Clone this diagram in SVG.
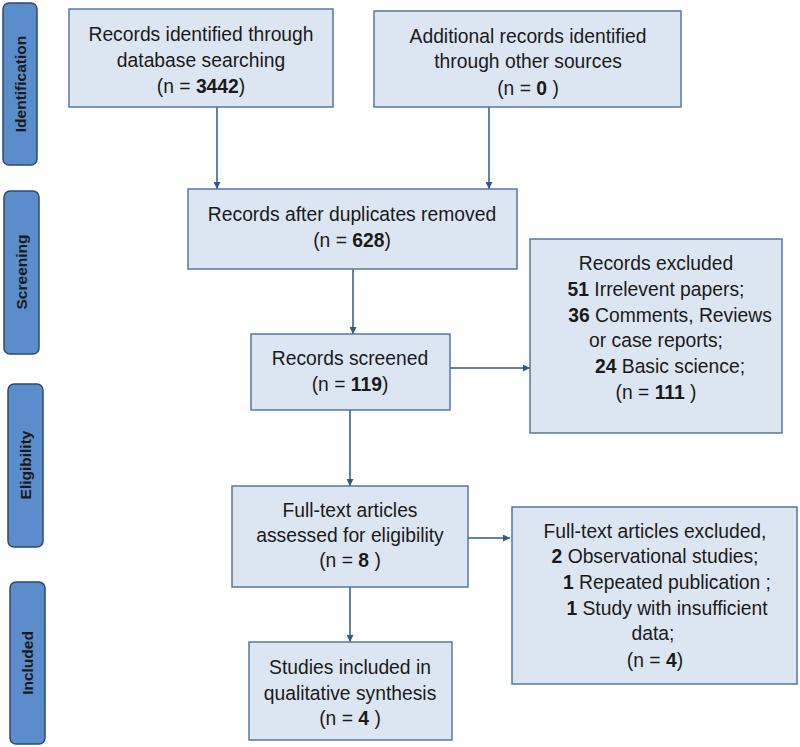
<svg xmlns="http://www.w3.org/2000/svg" width="800" height="747" viewBox="0 0 800 747">
<style>
.box{fill:#dce6f2;stroke:#5577a6;stroke-width:1.5}
.side{fill:#5b8ccc;stroke:#2c4a70;stroke-width:1.5}
.t{font-family:"Liberation Sans",Arial,sans-serif;font-size:19.3px;fill:#1a1a1a;text-anchor:middle}
.s{font-family:"Liberation Sans",Arial,sans-serif;font-size:15.5px;font-weight:bold;fill:#1a1a1a;text-anchor:middle}
.b{font-weight:bold}
.c{stroke:#2f5a86;stroke-width:1.5;fill:none;marker-end:url(#ah)}
</style>
<defs>
<marker id="ah" viewBox="0 0 10 10" refX="10" refY="5" markerWidth="7" markerHeight="7" markerUnits="userSpaceOnUse" orient="auto"><path d="M0,0 L10,5 L0,10 z" fill="#2f5a86"/></marker>
</defs>
<rect width="800" height="747" fill="#ffffff"/>
<g id="side-identification"><rect class="side" x="3" y="3" width="34" height="162" rx="6"/><text class="s" transform="translate(25.5,84) rotate(-90)">Identification</text></g>
<g id="side-screening"><rect class="side" x="4" y="191" width="35" height="163" rx="6"/><text class="s" transform="translate(27,272) rotate(-90)">Screening</text></g>
<g id="side-eligibility"><rect class="side" x="8" y="384" width="35" height="163" rx="6"/><text class="s" transform="translate(31,465) rotate(-90)">Eligibility</text></g>
<g id="side-included"><rect class="side" x="10" y="582" width="35" height="162" rx="6"/><text class="s" transform="translate(33,663) rotate(-90)">Included</text></g>

<g id="connectors">
<line class="c" x1="217" y1="107" x2="217" y2="189"/>
<line class="c" x1="489" y1="107" x2="489" y2="189"/>
<line class="c" x1="353" y1="269" x2="353" y2="334"/>
<line class="c" x1="450" y1="368" x2="530" y2="368"/>
<line class="c" x1="350" y1="410" x2="350" y2="486"/>
<line class="c" x1="468" y1="538" x2="510" y2="538"/>
<line class="c" x1="350" y1="587" x2="350" y2="642"/>
</g>

<g id="n1"><rect class="box" x="69" y="9" width="264" height="98"/>
<text class="t" x="201" y="41">Records identified through</text>
<text class="t" x="201" y="67">database searching</text>
<text class="t" x="201" y="93">(n =  <tspan class="b">3442</tspan>)</text></g>

<g id="n2"><rect class="box" x="374" y="11" width="307" height="96"/>
<text class="t" x="528" y="43">Additional records identified</text>
<text class="t" x="528" y="68">through other sources</text>
<text class="t" x="528" y="95">(n =  <tspan class="b">0</tspan> )</text></g>

<g id="n3"><rect class="box" x="188" y="189" width="329" height="80"/>
<text class="t" x="352" y="221">Records after duplicates removed</text>
<text class="t" x="352" y="247">(n =  <tspan class="b">628</tspan>)</text></g>

<g id="n4"><rect class="box" x="251" y="334" width="199" height="76"/>
<text class="t" x="350" y="365">Records screened</text>
<text class="t" x="350" y="391">(n =  <tspan class="b">119</tspan>)</text></g>

<g id="n5"><rect class="box" x="530" y="239" width="252" height="194"/>
<text class="t" x="656" y="270">Records excluded</text>
<text class="t" x="656" y="296"><tspan class="b">51</tspan> Irrelevent papers;</text>
<text class="t" x="670" y="322"><tspan class="b">36</tspan> Comments, Reviews</text>
<text class="t" x="656" y="347">or case reports;</text>
<text class="t" x="670" y="373"><tspan class="b">24</tspan> Basic science;</text>
<text class="t" x="656" y="399">(n =  <tspan class="b">111</tspan> )</text></g>

<g id="n6"><rect class="box" x="232" y="486" width="236" height="101"/>
<text class="t" x="350" y="517">Full-text articles</text>
<text class="t" x="350" y="542">assessed for eligibility</text>
<text class="t" x="350" y="567">(n =  <tspan class="b">8</tspan> )</text></g>

<g id="n7"><rect class="box" x="512" y="507" width="285" height="177"/>
<text class="t" x="655" y="538">Full-text articles excluded,</text>
<text class="t" x="655" y="563"><tspan class="b">2</tspan> Observational studies;</text>
<text class="t" x="667" y="589"><tspan class="b">1</tspan> Repeated publication ;</text>
<text class="t" x="667" y="615"><tspan class="b">1</tspan> Study with insufficient</text>
<text class="t" x="653" y="640">data;</text>
<text class="t" x="655" y="667">(n =  <tspan class="b">4</tspan>)</text></g>

<g id="n8"><rect class="box" x="249" y="642" width="203" height="98"/>
<text class="t" x="350" y="674">Studies included in</text>
<text class="t" x="350" y="700">qualitative synthesis</text>
<text class="t" x="350" y="725">(n = <tspan class="b">4</tspan> )</text></g>
</svg>
